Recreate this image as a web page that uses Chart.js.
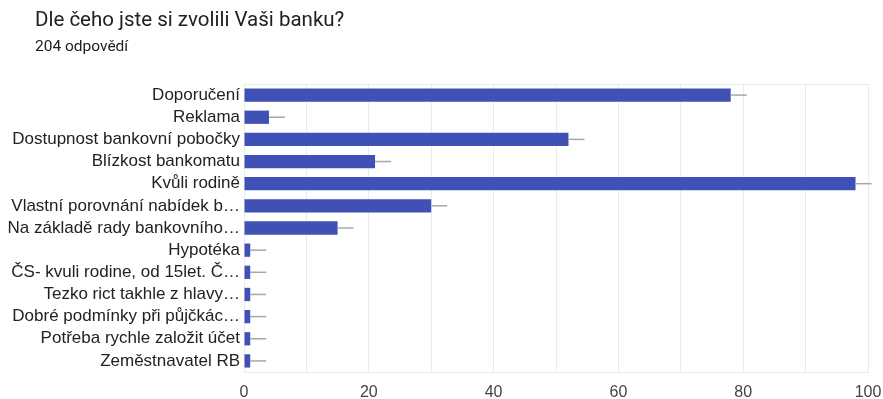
<!DOCTYPE html>
<html>
<head>
<meta charset="utf-8">
<script src="https://cdn.jsdelivr.net/npm/chart.js@4/dist/chart.umd.min.js"></script>
<style>
    html, body { margin: 0; padding: 0; background: #fff; }
    .wrap { position: relative; width: 883px; height: 399px; overflow: hidden; }
    .title { position: absolute; left: 35px; top: 7px; font: 20.5px Roboto, sans-serif; color: #202124; }
    .subtitle { position: absolute; left: 35px; top: 37px; font: 15.5px Roboto, sans-serif; color: #202124; }
    canvas { position: absolute; left: 0; top: 0; }
</style>
</head>
<body>
<div class="wrap">
    <canvas id="chart" width="883" height="399"></canvas>
    <div class="title">Dle čeho jste si zvolili Vaši banku?</div>
    <div class="subtitle">204 odpovědí</div>
</div>
<script>

// answers (multi-choice, so counts add up to more than 204)
const categories = [
    'Doporučení',
    'Reklama',
    'Dostupnost bankovní pobočky',
    'Blízkost bankomatu',
    'Kvůli rodině',
    'Vlastní porovnání nabídek b…',
    'Na základě rady bankovního…',
    'Hypotéka',
    'ČS- kvuli rodine, od 15let. Č…',
    'Tezko rict takhle z hlavy…',
    'Dobré podmínky při půjčkác…',
    'Potřeba rychle založit účet',
    'Zeměstnavatel RB'
];
const counts = [78, 4, 52, 21, 98, 30, 15, 1, 1, 1, 1, 1, 1];
const xTicks = [0, 20, 40, 60, 80, 100];

const labelFont = { family: '"Liberation Sans", Arial, sans-serif', size: 17 };

// light frame round the plot area
const frame = {
    id: 'frame',
    beforeDatasetsDraw(chart) {
        const a = chart.chartArea;
        const ctx = chart.ctx;
        ctx.save();
        ctx.strokeStyle = '#ebebeb';
        ctx.lineWidth = 1;
        ctx.strokeRect(a.left + 0.5, a.top + 0.5, a.right - a.left, a.bottom - a.top);
        ctx.restore();
    }
};

// short grey stem after every bar end
const stems = {
    id: 'stems',
    afterDatasetsDraw(chart) {
        const ctx = chart.ctx;
        ctx.save();
        ctx.strokeStyle = '#a8a8a8';
        ctx.lineWidth = 1.5;
        chart.getDatasetMeta(0).data.forEach(bar => {
            ctx.beginPath();
            ctx.moveTo(bar.x, bar.y);
            ctx.lineTo(bar.x + 16, bar.y);
            ctx.stroke();
        });
        ctx.restore();
    }
};

new Chart(document.getElementById('chart'), {
    type: 'bar',
    data: {
        labels: categories,
        datasets: [{
            data: counts,
            backgroundColor: '#3f51b5',
            borderWidth: 0,
            barPercentage: 0.6,
            categoryPercentage: 1
        }]
    },
    plugins: [frame, stems],
    options: {
        indexAxis: 'y',
        responsive: false,
        animation: false,
        layout: { padding: { top: 84, right: 15, bottom: 0, left: 0 } },
        scales: {
            x: {
                min: 0,
                max: 100,
                afterFit(scale) {
                    scale.height = 27;
                    scale.paddingLeft = 0;
                    scale.paddingRight = 0;
                },
                ticks: {
                    stepSize: 10,
                    padding: 11,
                    color: '#444',
                    maxRotation: 0,
                    autoSkip: false,
                    font: { family: labelFont.family, size: 16 },
                    callback: v => xTicks.includes(v) ? v : ''
                },
                grid: { color: '#ebebeb', drawTicks: false },
                border: { color: '#ebebeb' }
            },
            y: {
                afterFit(scale) { scale.width = 244; },
                ticks: {
                    padding: 4,
                    color: '#222',
                    autoSkip: false,
                    font: labelFont
                },
                grid: { display: false, drawTicks: false },
                border: { color: '#333', width: 1 }
            }
        },
        plugins: {
            legend: { display: false },
            tooltip: { enabled: false }
        }
    }
});
</script>
</body>
</html>
